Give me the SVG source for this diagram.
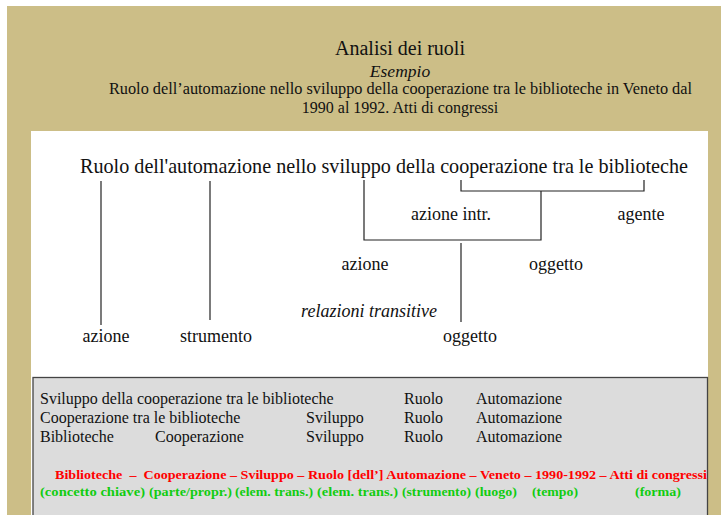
<svg xmlns="http://www.w3.org/2000/svg" width="721" height="515" viewBox="0 0 721 515">
<style>
text{font-family:"Liberation Serif","Times New Roman",serif;fill:#111}
.t{font-size:16px}
.m{font-size:18px}
.r{font-size:16px}
.it{font-style:italic}
.red{fill:#ff0000;font-weight:bold;font-size:13.5px}
.grn{fill:#11cc11;font-weight:bold;font-size:13.5px}
.ln{stroke:#222;stroke-width:1.2;fill:none}
</style>
<rect x="0" y="0" width="721" height="515" fill="#ffffff"/>
<rect x="7" y="6" width="714" height="509" fill="#ccbe87"/>
<rect x="31" y="131" width="677" height="384" fill="#ffffff"/>
<g id="header">
<text x="400" y="55" text-anchor="middle" style="font-size:20px">Analisi dei ruoli</text>
<text x="400" y="77" text-anchor="middle" class="it" style="font-size:17.5px">Esempio</text>
<text x="109" y="94" class="t" textLength="583" lengthAdjust="spacingAndGlyphs">Ruolo dell’automazione nello sviluppo della cooperazione tra le biblioteche in Veneto dal</text>
<text x="400" y="113" text-anchor="middle" class="t">1990 al 1992. Atti di congressi</text>
</g>
<g id="sentence">
<text x="80" y="173" style="font-size:21px" textLength="608" lengthAdjust="spacingAndGlyphs">Ruolo dell'automazione nello sviluppo della cooperazione tra le biblioteche</text>
</g>
<g id="connectors">
<path class="ln" d="M101 181V325"/>
<path class="ln" d="M210 181V320"/>
<path class="ln" d="M364 180V240H541V191"/>
<path class="ln" d="M461 180V191H644V180"/>
<path class="ln" d="M461 243V322"/>
</g>
<g id="labels">
<g id="n-azione-intr"><text x="451" y="220" class="m" text-anchor="middle">azione intr.</text></g>
<g id="n-agente"><text x="641" y="220" class="m" text-anchor="middle">agente</text></g>
<g id="n-azione2"><text x="365" y="270" class="m" text-anchor="middle">azione</text></g>
<g id="n-oggetto2"><text x="556" y="270" class="m" text-anchor="middle">oggetto</text></g>
<g id="n-rel"><text x="369" y="317" class="m it" text-anchor="middle">relazioni transitive</text></g>
<g id="n-azione"><text x="106" y="342" class="m" text-anchor="middle">azione</text></g>
<g id="n-strumento"><text x="216" y="342" class="m" text-anchor="middle">strumento</text></g>
<g id="n-oggetto"><text x="470" y="342" class="m" text-anchor="middle">oggetto</text></g>
</g>
<g id="box">
<rect x="33" y="377.5" width="674.5" height="145" fill="#dcdcdc" stroke="#444" stroke-width="1.3"/>
<text x="40" y="404" class="r">Sviluppo della cooperazione tra le biblioteche</text>
<text x="404" y="404" class="r">Ruolo</text>
<text x="476" y="404" class="r">Automazione</text>
<text x="40" y="423" class="r">Cooperazione tra le biblioteche</text>
<text x="306" y="423" class="r">Sviluppo</text>
<text x="404" y="423" class="r">Ruolo</text>
<text x="476" y="423" class="r">Automazione</text>
<text x="40" y="442" class="r">Biblioteche</text>
<text x="155" y="442" class="r">Cooperazione</text>
<text x="306" y="442" class="r">Sviluppo</text>
<text x="404" y="442" class="r">Ruolo</text>
<text x="476" y="442" class="r">Automazione</text>
<text x="55" y="479" class="red" xml:space="preserve" textLength="652" lengthAdjust="spacingAndGlyphs">Biblioteche  –  Cooperazione – Sviluppo – Ruolo [dell’] Automazione – Veneto – 1990-1992 – Atti di congressi</text>
<text x="40" y="496" class="grn" textLength="105" lengthAdjust="spacingAndGlyphs">(concetto chiave)</text>
<text x="149" y="496" class="grn" textLength="83" lengthAdjust="spacingAndGlyphs">(parte/propr.)</text>
<text x="235" y="496" class="grn" textLength="78" lengthAdjust="spacingAndGlyphs">(elem. trans.)</text>
<text x="317" y="496" class="grn" textLength="81" lengthAdjust="spacingAndGlyphs">(elem. trans.)</text>
<text x="402" y="496" class="grn" textLength="69" lengthAdjust="spacingAndGlyphs">(strumento)</text>
<text x="475" y="496" class="grn" textLength="42" lengthAdjust="spacingAndGlyphs">(luogo)</text>
<text x="532" y="496" class="grn" textLength="46" lengthAdjust="spacingAndGlyphs">(tempo)</text>
<text x="635" y="496" class="grn" textLength="46" lengthAdjust="spacingAndGlyphs">(forma)</text>
</g>
</svg>
